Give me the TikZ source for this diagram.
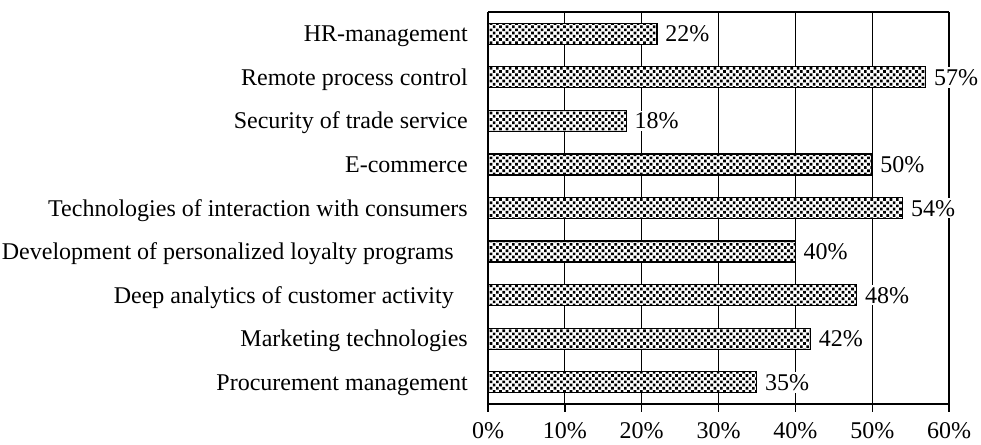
\documentclass[tikz,border=0pt]{standalone}
\usepackage{fontspec}
\setmainfont{Liberation Serif}
\usetikzlibrary{patterns}
\pgfdeclarepatternformonly{chk}{\pgfpoint{-1pt}{-1pt}}{\pgfpoint{6pt}{6pt}}{\pgfpoint{4.8pt}{4.8pt}}{%
  \pgfpathrectangle{\pgfpoint{0pt}{0pt}}{\pgfpoint{2pt}{2pt}}%
  \pgfpathrectangle{\pgfpoint{2.4pt}{2.4pt}}{\pgfpoint{2pt}{2pt}}%
  \pgfusepath{fill}}
\begin{document}
\begin{tikzpicture}[x=0.75pt,y=-0.75pt,
  grid/.style={line width=0.8pt},
  axisline/.style={line width=1pt},
  bar/.style={draw,line width=0.9pt,fill=white,postaction={pattern=chk}},
  val/.style={anchor=base west,fill=white,inner sep=1.5pt,font=\fontsize{18}{20}\selectfont},
  cat/.style={anchor=base east,inner sep=0pt,font=\fontsize{18}{20}\selectfont},
  tick/.style={anchor=base,inner sep=0pt,font=\fontsize{18}{20}\selectfont}]
\useasboundingbox (0,0) rectangle (981,444);
% grid
\foreach \i in {1,...,5} {
  \draw[grid] ({488+\i*76.85},12) -- ({488+\i*76.85},404);
}
\draw[grid] (949,12) -- (949,404);
\draw[grid] (488,12) -- (949,12);
% axes
\draw[axisline] (488,12) -- (488,404) -- (949,404);
\foreach \i/\lab in {0/0\%,1/10\%,2/20\%,3/30\%,4/40\%,5/50\%,6/60\%} {
  \draw[axisline] ({488+\i*76.85},404) -- ({488+\i*76.85},412);
  \node[tick] (t\i) at ({488+\i*76.85},438) {\lab};
}
% bars
\foreach \v/\n [count=\k from 0] in {22/a,57/b,18/c,50/d,54/e,40/f,48/g,42/h,35/i} {
  \pgfmathsetmacro{\yc}{12+43.56*(\k+0.5)}
  \draw[bar] (488,{\yc-10.5}) rectangle ({488+\v*7.6817},{\yc+10.5});
  \node[val] (v\n) at ({488+\v*7.6817+6},{\yc+8}) {\v\%};
}
\node[cat] (ca) at (468,{12+43.56*0.5+8}) {HR-management};
\node[cat] (cb) at (468,{12+43.56*1.5+8}) {Remote process control};
\node[cat] (cc) at (468,{12+43.56*2.5+8}) {Security of trade service};
\node[cat] (cd) at (468,{12+43.56*3.5+8}) {E-commerce};
\node[cat] (ce) at (468,{12+43.56*4.5+8}) {Technologies of interaction with consumers};
\node[cat] (cf) at (454,{12+43.56*5.5+8}) {Development of personalized loyalty programs};
\node[cat] (cg) at (454,{12+43.56*6.5+8}) {Deep analytics of customer activity};
\node[cat] (ch) at (468,{12+43.56*7.5+8}) {Marketing technologies};
\node[cat] (ci) at (468,{12+43.56*8.5+8}) {Procurement management};
\end{tikzpicture}
\end{document}
